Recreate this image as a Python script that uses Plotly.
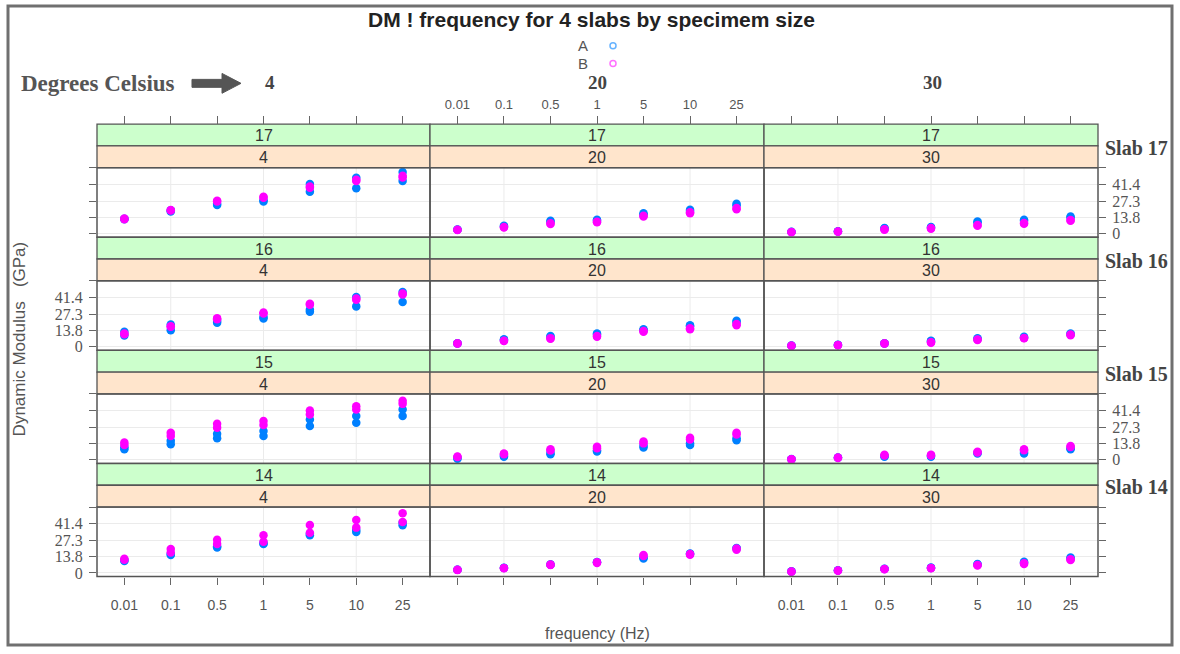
import plotly.graph_objects as go

W, H = 1180, 654

# ---- data -------------------------------------------------------------
freq_labels = ["0.01", "0.1", "0.5", "1", "5", "10", "25"]
temps = [4, 20, 30]
slabs = [17, 16, 15, 14]
specimens = ["A", "B"]
specimen_colors = ["#0080ff", "#ff00ff"]
ytick_vals = [0, 13.8, 27.3, 41.4, 55.2]
ytick_text = ["0", "13.8", "27.3", "41.4", ""]

# Dynamic modulus (GPa), two replicate sweeps per specimen, one value per frequency
s17_t4_A = [[12.0, 18.5, 24.0, 26.8, 35.1, 37.9, 44.0],
            [12.5, 19.5, 25.0, 28.0, 41.5, 46.7, 51.7]]
s17_t4_B = [[12.1, 19.3, 26.8, 30.1, 38.4, 44.0, 47.0],
            [12.6, 19.8, 27.5, 30.8, 39.5, 45.2, 48.5]]
s17_t20_A = [[3.2, 6.5, 10.7, 11.5, 17.0, 19.9, 24.9],
             [3.5, 6.0, 10.0, 11.0, 16.2, 19.0, 23.8]]
s17_t20_B = [[3.2, 5.5, 8.0, 9.6, 14.3, 17.1, 20.4],
             [3.0, 5.2, 8.6, 10.0, 15.0, 17.8, 21.4]]
s17_t30_A = [[1.3, 1.8, 4.6, 5.5, 10.1, 11.5, 14.3],
             [1.5, 2.0, 4.2, 5.0, 9.4, 10.8, 13.5]]
s17_t30_B = [[1.3, 1.8, 3.2, 4.1, 6.6, 8.2, 10.7],
             [1.1, 1.6, 3.6, 4.6, 7.2, 8.8, 11.3]]

s16_t4_A = [[9.5, 13.9, 20.0, 23.6, 29.2, 33.8, 37.5],
            [12.5, 18.6, 21.5, 25.0, 31.0, 41.6, 45.8]]
s16_t4_B = [[10.5, 16.7, 23.0, 27.8, 35.2, 39.4, 43.8],
            [11.0, 17.2, 23.8, 28.6, 36.0, 40.4, 44.6]]
s16_t20_A = [[2.8, 6.2, 8.9, 11.1, 14.7, 18.0, 21.7],
             [3.0, 5.6, 8.2, 10.2, 14.0, 17.2, 20.8]]
s16_t20_B = [[2.8, 4.7, 6.7, 8.4, 12.5, 14.7, 18.0],
             [2.6, 5.0, 7.2, 9.0, 13.2, 15.5, 19.0]]
s16_t30_A = [[0.9, 1.4, 2.8, 5.1, 7.0, 8.4, 11.1],
             [1.0, 1.6, 3.0, 4.6, 6.5, 7.8, 10.5]]
s16_t30_B = [[0.9, 1.4, 2.8, 3.4, 5.6, 7.0, 9.7],
             [0.8, 1.2, 2.6, 3.8, 6.0, 7.4, 10.2]]

s15_t4_A = [[8.9, 13.0, 18.0, 20.0, 28.3, 31.1, 36.7],
            [10.5, 15.9, 21.9, 24.2, 33.8, 36.7, 42.1]]
s15_t4_B = [[12.5, 20.0, 26.9, 29.2, 38.0, 42.1, 46.9],
            [14.5, 22.8, 30.3, 32.5, 41.3, 45.0, 49.6]]
s15_t20_A = [[1.0, 2.6, 4.7, 7.0, 10.3, 12.5, 16.4],
             [1.8, 3.4, 5.8, 8.0, 11.8, 14.0, 18.0]]
s15_t20_B = [[2.8, 5.3, 8.9, 10.9, 15.3, 18.6, 22.8],
             [2.4, 4.6, 7.8, 9.8, 13.8, 17.0, 21.2]]
s15_t30_A = [[0.6, 2.0, 2.6, 2.6, 5.3, 5.3, 8.9],
             [0.8, 1.7, 3.2, 3.4, 6.0, 6.6, 9.8]]
s15_t30_B = [[0.6, 2.0, 4.2, 4.2, 6.7, 8.9, 11.7],
             [0.4, 1.6, 3.6, 3.6, 6.2, 8.0, 10.8]]

s14_t4_A = [[10.0, 15.0, 21.4, 24.2, 31.7, 34.4, 40.0],
            [10.8, 16.0, 22.4, 25.0, 32.8, 36.0, 42.0]]
s14_t4_B = [[11.1, 17.2, 24.2, 26.1, 33.8, 38.0, 42.7],
            [12.0, 20.0, 27.8, 31.7, 40.2, 44.4, 50.0]]
s14_t20_A = [[2.6, 4.2, 7.0, 8.9, 12.2, 15.9, 20.5],
             [2.8, 4.4, 7.2, 9.2, 13.0, 16.4, 21.0]]
s14_t20_B = [[2.6, 4.2, 7.0, 8.9, 15.0, 15.9, 20.5],
             [2.4, 4.0, 6.6, 8.4, 14.2, 15.2, 19.5]]
s14_t30_A = [[1.2, 2.0, 3.4, 4.2, 7.6, 9.5, 13.0],
             [1.4, 2.2, 3.6, 4.6, 7.0, 8.8, 12.2]]
s14_t30_B = [[1.2, 2.0, 3.4, 4.2, 6.2, 7.6, 10.9],
             [1.0, 1.8, 3.2, 4.0, 6.6, 8.2, 11.6]]

dm = {
    (17, 4, "A"): s17_t4_A, (17, 4, "B"): s17_t4_B,
    (17, 20, "A"): s17_t20_A, (17, 20, "B"): s17_t20_B,
    (17, 30, "A"): s17_t30_A, (17, 30, "B"): s17_t30_B,
    (16, 4, "A"): s16_t4_A, (16, 4, "B"): s16_t4_B,
    (16, 20, "A"): s16_t20_A, (16, 20, "B"): s16_t20_B,
    (16, 30, "A"): s16_t30_A, (16, 30, "B"): s16_t30_B,
    (15, 4, "A"): s15_t4_A, (15, 4, "B"): s15_t4_B,
    (15, 20, "A"): s15_t20_A, (15, 20, "B"): s15_t20_B,
    (15, 30, "A"): s15_t30_A, (15, 30, "B"): s15_t30_B,
    (14, 4, "A"): s14_t4_A, (14, 4, "B"): s14_t4_B,
    (14, 20, "A"): s14_t20_A, (14, 20, "B"): s14_t20_B,
    (14, 30, "A"): s14_t30_A, (14, 30, "B"): s14_t30_B,
}

# ---- panel geometry (pixels) -------------------------------------------
col_edges = [(97, 430), (430, 764), (764, 1098)]
row_tops = [125, 239, 353, 467]
STRIP = 22
PANEL = 70
X_RANGE = [0.41, len(freq_labels) + 0.59]
Y_RANGE = [-3, 55.2]
x_pos = [i + 1 for i in range(len(freq_labels))]
x_grid = x_pos[1::2]

SANS = "Liberation Sans, Arial, sans-serif"
SERIF = "Liberation Serif, Times New Roman, serif"
STRIP_GREEN = "#ccffcc"
STRIP_PEACH = "#ffe5cc"
EDGE = "#555555"
GRID = "#ebebeb"


def px(x):
    return x / W


def py(y):
    return 1 - y / H


fig = go.Figure()
layout = {}
shapes = []
annotations = []


def rect(x0, y0, x1, y1, fill="rgba(0,0,0,0)", color=EDGE, width=1.3, layer="above"):
    shapes.append(dict(type="rect", xref="paper", yref="paper",
                       x0=px(x0), x1=px(x1), y0=py(y1), y1=py(y0),
                       fillcolor=fill, line=dict(color=color, width=width), layer=layer))


def text(s, x, y, size, family=SANS, color="#444", xanchor="center", angle=0):
    annotations.append(dict(text=s, x=px(x), y=py(y), xref="paper", yref="paper",
                            showarrow=False, xanchor=xanchor, yanchor="middle",
                            textangle=angle, font=dict(family=family, size=size, color=color)))


for r, slab in enumerate(slabs):
    for c, t in enumerate(temps):
        k = r * len(temps) + c + 1
        xn = "x" if k == 1 else f"x{k}"
        yn = "y" if k == 1 else f"y{k}"
        xk = "xaxis" if k == 1 else f"xaxis{k}"
        yk = "yaxis" if k == 1 else f"yaxis{k}"
        x0, x1 = col_edges[c]
        top = row_tops[r]
        p_top = top + 2 * STRIP
        p_bot = p_top + PANEL
        last_row = r == len(slabs) - 1

        layout[xk] = dict(
            domain=[px(x0), px(x1)], anchor=yn, range=X_RANGE,
            tickmode="array", tickvals=x_pos, ticktext=freq_labels,
            showgrid=False, zeroline=False, showline=False,
            ticks="outside" if last_row else "", ticklen=7, tickwidth=1, tickcolor="#666",
            showticklabels=last_row and c != 1, ticklabelstandoff=9,
            tickfont=dict(family=SANS, size=14, color="#555"),
        )
        show_y = (c == 0 and r % 2 == 1) or (c == 2 and r % 2 == 0)
        layout[yk] = dict(
            domain=[py(p_bot), py(p_top)], anchor=xn, range=Y_RANGE,
            tickmode="array", tickvals=ytick_vals, ticktext=ytick_text,
            showgrid=True, gridcolor=GRID, gridwidth=1,
            zeroline=False, showline=False,
            side="left" if c == 0 else "right",
            ticks="outside" if c != 1 else "", ticklen=7, tickwidth=1, tickcolor="#666",
            showticklabels=show_y, ticklabelstandoff=3,
            tickfont=dict(family=SERIF, size=16, color="#555"),
        )

        # vertical reference lines at every other frequency
        for xv in x_grid:
            shapes.append(dict(type="line", xref=xn, yref=f"{yn} domain",
                               x0=xv, x1=xv, y0=0, y1=1,
                               line=dict(color=GRID, width=1), layer="below"))

        # strips: slab on top, temperature below
        rect(x0, top, x1, top + STRIP, fill=STRIP_GREEN, layer="below")
        rect(x0, top + STRIP, x1, top + 2 * STRIP, fill=STRIP_PEACH, layer="below")
        text(str(slab), (x0 + x1) / 2, top + STRIP / 2 + 1, 16, color="#333")
        text(str(t), (x0 + x1) / 2, top + 1.5 * STRIP + 1, 16, color="#333")
        rect(x0, p_top, x1, p_bot, width=1.5)

        for s, col in zip(specimens, specimen_colors):
            reps = dm[(slab, t, s)]
            xs, ys = [], []
            for rep in reps:
                xs += x_pos
                ys += rep
            fig.add_trace(go.Scatter(
                x=xs, y=ys, mode="markers", xaxis=xn, yaxis=yn,
                marker=dict(size=8.5, color=col, line=dict(width=0)),
                name=s, showlegend=False, hoverinfo="skip",
            ))

# tick marks above the first row of strips (labels only over the middle column)
for c in range(len(temps)):
    k = len(slabs) * len(temps) + c + 1
    base_x = "x" if c == 0 else f"x{c + 1}"
    base_y = "y" if c == 0 else f"y{c + 1}"
    layout[f"xaxis{k}"] = dict(
        overlaying=base_x, anchor="free", position=py(row_tops[0]), side="top",
        range=X_RANGE, tickmode="array", tickvals=x_pos, ticktext=freq_labels,
        ticks="outside", ticklen=8, tickwidth=1, tickcolor="#666",
        showticklabels=(c == 1), showgrid=False, zeroline=False, showline=False,
        ticklabelstandoff=2,
        tickfont=dict(family=SANS, size=13, color="#555"),
    )
    fig.add_trace(go.Scatter(x=[None], y=[None], xaxis=f"x{k}", yaxis=base_y,
                             showlegend=False, hoverinfo="skip"))

# ---- titles, key and labels -------------------------------------------
text("<b>DM ! frequency for 4 slabs by specimem size</b>", 591, 20, 21, color="#222")

legend_rows = [46, 64]
legend_marker_colors = ["#66b3ff", "#ff70ff"]
for s, ly, mc in zip(specimens, legend_rows, legend_marker_colors):
    text(s, 583, ly, 15, color="#555")
    shapes.append(dict(type="circle", xref="paper", yref="paper",
                       x0=px(610), x1=px(616), y0=py(ly + 3), y1=py(ly - 3),
                       line=dict(color=mc, width=1.5), fillcolor="rgba(0,0,0,0)"))

text("<b>Degrees Celsius</b>", 19, 84, 23, family=SERIF, color="#555", xanchor="left")
arrow = [(192, 80), (222, 80), (222, 74), (241, 84), (222, 94), (222, 88), (192, 88)]
shapes.append(dict(type="path", xref="paper", yref="paper",
                   path="M " + " L ".join(f"{px(a):.5f},{py(b):.5f}" for a, b in arrow) + " Z",
                   fillcolor="#555555", line=dict(color="#555555", width=1)))
temp_label_x = [270, 597, 932]
for t, lx in zip(temps, temp_label_x):
    text(f"<b>{t}</b>", lx, 83, 19, family=SERIF, color="#444")

for r, slab in enumerate(slabs):
    text(f"<b>Slab {slab}</b>", 1103, row_tops[r] + STRIP + 2, 20, family=SERIF,
         color="#444", xanchor="left")

text("Dynamic Modulus&nbsp;&nbsp;&nbsp;(GPa)", 19, 342, 17, color="#555", angle=-90)
text("frequency (Hz)", 597, 638, 16, color="#555")

# outer frame
rect(8, 6, 1172, 650, color="#707070", width=3)

fig.update_layout(
    width=W, height=H,
    margin=dict(l=0, r=0, t=0, b=0),
    paper_bgcolor="white", plot_bgcolor="rgba(0,0,0,0)",
    showlegend=False,
    shapes=shapes, annotations=annotations,
    **layout,
)

fig.write_html("out.html")
